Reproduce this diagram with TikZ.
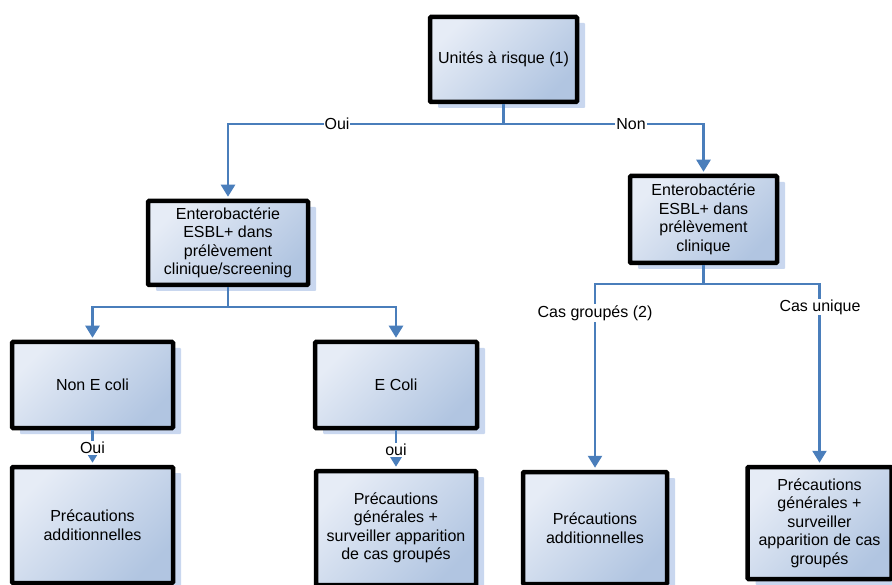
\documentclass[tikz,border=0pt]{standalone}
\usepackage{fontspec}
\setmainfont{Liberation Sans}
\usepackage{xcolor}
\usepackage{tikz}
\usetikzlibrary{arrows.meta}
\usetikzlibrary{shadows}
\definecolor{L0}{HTML}{4A7EBB}
\definecolor{F0}{HTML}{E6ECF6}
\definecolor{F1}{HTML}{B1C5E1}
\definecolor{S0}{HTML}{C9D7EF}
\tikzstyle{box} = [draw=black, line width=4.5pt, rounded corners=1pt, top color=F0, bottom color=F1, shading angle=45, align=center, inner sep=2pt, general shadow={fill=S0, shadow xshift=8pt, shadow yshift=-6pt}]
\tikzstyle{wire} = [draw=L0, line width=2.5pt]
\tikzstyle{arrow} = [wire, -{Triangle[width=14pt,length=12pt]}, shorten >=2pt]
\tikzstyle{answer} = [fill=white, inner sep=1pt]

\begin{document}
\begin{tikzpicture}[x=1pt, y=-1pt, every node/.style={font=\fontsize{16}{18.5}\selectfont}]
	\useasboundingbox (0,0) rectangle (892,585) ;

	\node[box, minimum width=147, minimum height=85] (B1) at (503.5, 59.5) {Unités à risque (1)} ;
	\node[box, minimum width=160, minimum height=84] (B2) at (228, 243) {Enterobactérie\\ESBL+ dans\\prélèvement\\clinique/screening} ;
	\node[box, minimum width=147, minimum height=87] (B3) at (703.5, 219.5) {Enterobactérie\\ESBL+ dans\\prélèvement\\clinique} ;
	\node[box, minimum width=161, minimum height=86] (B4) at (92.5, 385) {Non E coli} ;
	\node[box, minimum width=162, minimum height=86] (B5) at (396, 385) {E Coli} ;
	\node[box, minimum width=161, minimum height=116] (B6) at (92.5, 525) {Précautions\\additionnelles} ;
	\node[box, minimum width=160, minimum height=114] (B7) at (396, 528) {Précautions\\générales +\\surveiller apparition\\de cas groupés} ;
	\node[box, minimum width=144, minimum height=112] (B8) at (595, 528) {Précautions\\additionnelles} ;
	\node[box, minimum width=144, minimum height=112] (B9) at (819.5, 523) {Précautions\\générales +\\surveiller\\apparition de cas\\groupés} ;

	\coordinate (J1) at (503.5, 124) ;
	\coordinate (J2) at (228, 307) ;
	\coordinate (J3) at (703.5, 284) ;

	\draw[wire] (B1) -- (J1) ;
	\draw[arrow] (J1) -| (B2) ;
	\draw[arrow] (J1) -| (B3) ;
	\draw[wire] (B2) -- (J2) ;
	\draw[arrow] (J2) -| (B4) ;
	\draw[arrow] (J2) -| (B5) ;
	\draw[wire] (B3) -- (J3) ;
	\draw[arrow] (J3) -| (B8) ;
	\draw[arrow] (J3) -| (B9) ;
	\draw[arrow] (B4) -- (B6) ;
	\draw[arrow] (B5) -- (B7) ;

	\node[answer] (A1) at (337, 124) {Oui} ;
	\node[answer] (A2) at (631, 124) {Non} ;
	\node[answer] (A3) at (92.5, 448) {Oui} ;
	\node[answer] (A4) at (396, 450) {oui} ;
	\node[answer] (A5) at (595, 313) {Cas groupés (2)} ;
	\node[answer] (A6) at (820, 307) {Cas unique} ;
\end{tikzpicture}
\end{document}
